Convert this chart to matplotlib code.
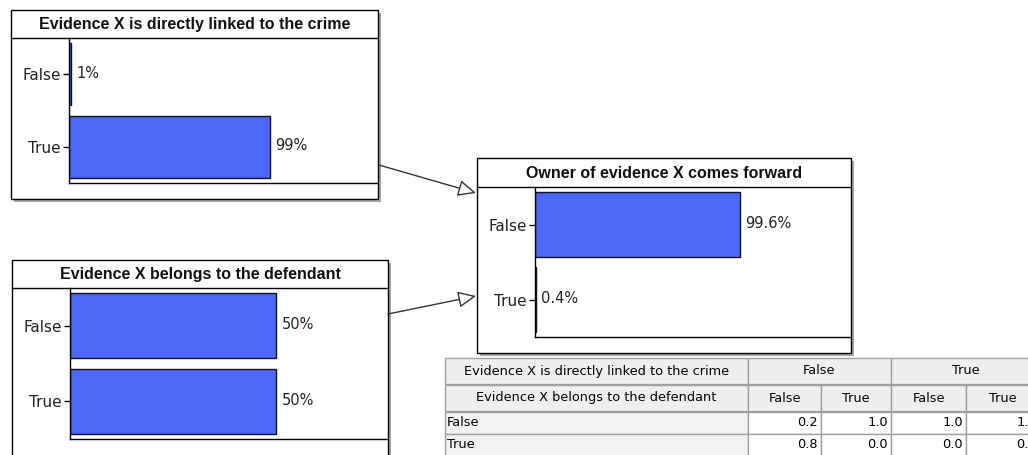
import matplotlib
matplotlib.use("Agg")
import matplotlib.pyplot as plt
from matplotlib.patches import Rectangle

# node data
states = ["False", "True"]
linked_title = "Evidence X is directly linked to the crime"
linked_vals = [1, 99]
belongs_title = "Evidence X belongs to the defendant"
belongs_vals = [50, 50]
owner_title = "Owner of evidence X comes forward"
owner_vals = [99.6, 0.4]

# conditional probability table for the owner node
cpt_parent1 = ["False", "True"]
cpt_parent2 = ["False", "True", "False", "True"]
cpt_false = [0.2, 1.0, 1.0, 1.0]
cpt_true = [0.8, 0.0, 0.0, 0.0]

W, H = 1028, 455
BLUE = "#4a69f8"

fig = plt.figure(figsize=(W / 100, H / 100), dpi=100)
canvas = fig.add_axes([0, 0, 1, 1])
canvas.set_xlim(0, W)
canvas.set_ylim(H, 0)
canvas.axis("off")


def px_axes(x0, y0, x1, y1):
    return fig.add_axes([x0 / W, 1 - y1 / H, (x1 - x0) / W, (y1 - y0) / H])


def draw_node(title, box, title_h, plot_left, plot_bottom, vals):
    x0, y0, x1, y1 = box
    canvas.add_patch(Rectangle((x0 + 3, y0 + 3), x1 - x0, y1 - y0, fc="#a8a8a8", ec="none", zorder=1))
    canvas.add_patch(Rectangle((x0, y0), x1 - x0, y1 - y0, fc="white", ec="black", lw=1, zorder=2))
    canvas.plot([x0, x1], [y0 + title_h, y0 + title_h], color="black", lw=1, zorder=3)
    canvas.text((x0 + x1) / 2, y0 + title_h / 2 + 1, title, ha="center", va="center",
                fontsize=11.5, fontweight="bold", family="Liberation Sans", color="#111111", zorder=4)

    ax = px_axes(plot_left, y0 + title_h, x1, plot_bottom)
    ax.set_facecolor("none")
    pos = list(range(len(states)))
    ax.barh(pos, vals, height=0.86, color=BLUE, edgecolor="#111122", lw=1)
    ax.set_ylim(len(states) - 0.5, -0.5)
    ax.set_xlim(0, max(vals) * 1.54)
    for s in ["top", "right"]:
        ax.spines[s].set_visible(False)
    for s in ["left", "bottom"]:
        ax.spines[s].set_color("black")
        ax.spines[s].set_linewidth(1)
    ax.set_xticks([])
    ax.set_yticks(pos)
    ax.set_yticklabels(states, fontsize=11, color="#222222")
    ax.tick_params(axis="y", length=4, width=1, pad=2)
    for i, v in enumerate(vals):
        ax.annotate("{:g}%".format(v), (v, i), xytext=(5, 1), textcoords="offset pixels",
                    va="center", ha="left", fontsize=10.5, color="#222222")
    return ax


draw_node(linked_title, (11, 10, 378, 199), 28, 69, 183, linked_vals)
draw_node(belongs_title, (12, 260, 388, 475), 28, 70, 439, belongs_vals)
draw_node(owner_title, (477, 158, 851, 353), 29, 535, 337, owner_vals)

# arrows between nodes
arrow = dict(arrowstyle="-|>,head_length=0.55,head_width=0.25", fc="white", ec="#333333",
             lw=1, shrinkA=0, shrinkB=0, mutation_scale=20)
canvas.annotate("", xy=(476, 193), xytext=(379, 165), arrowprops=arrow, zorder=5)
canvas.annotate("", xy=(476, 296), xytext=(388, 314), arrowprops=arrow, zorder=5)

# table
cols = [445, 748, 821, 891, 966, 1040]
tfont = dict(fontsize=9.3, family="DejaVu Sans", zorder=7)


def cell(x0, y0, x1, y1, fc):
    canvas.add_patch(Rectangle((x0, y0), x1 - x0, y1 - y0, fc=fc, ec="#a0a0a0", lw=1, zorder=6))


hdr1 = (358, 384)
hdr2 = (385, 411)
rows = [(412, 434), (434, 456)]

cell(cols[0], hdr1[0], cols[1], hdr1[1], "#efefef")
canvas.text((cols[0] + cols[1]) / 2, sum(hdr1) / 2, linked_title, ha="center", va="center", **tfont)
for j, lab in enumerate(cpt_parent1):
    a, b = cols[1 + 2 * j], cols[3 + 2 * j]
    cell(a, hdr1[0], b, hdr1[1], "#efefef")
    canvas.text((a + b) / 2, sum(hdr1) / 2, lab, ha="center", va="center", **tfont)

cell(cols[0], hdr2[0], cols[1], hdr2[1], "#efefef")
canvas.text((cols[0] + cols[1]) / 2, sum(hdr2) / 2, belongs_title, ha="center", va="center", **tfont)
for j, lab in enumerate(cpt_parent2):
    cell(cols[1 + j], hdr2[0], cols[2 + j], hdr2[1], "#efefef")
    canvas.text((cols[1 + j] + cols[2 + j]) / 2, sum(hdr2) / 2, lab, ha="center", va="center", **tfont)

for (r0, r1), lab, vals in zip(rows, states, [cpt_false, cpt_true]):
    cell(cols[0], r0, cols[1], r1, "#f2f2f2")
    canvas.text(cols[0] + 2, (r0 + r1) / 2, lab, ha="left", va="center", **tfont)
    for j, v in enumerate(vals):
        cell(cols[1 + j], r0, cols[2 + j], r1, "white")
        canvas.text(cols[2 + j] - 3, (r0 + r1) / 2, "{:.1f}".format(v), ha="right", va="center", **tfont)

fig.savefig("out.png", dpi=100)
